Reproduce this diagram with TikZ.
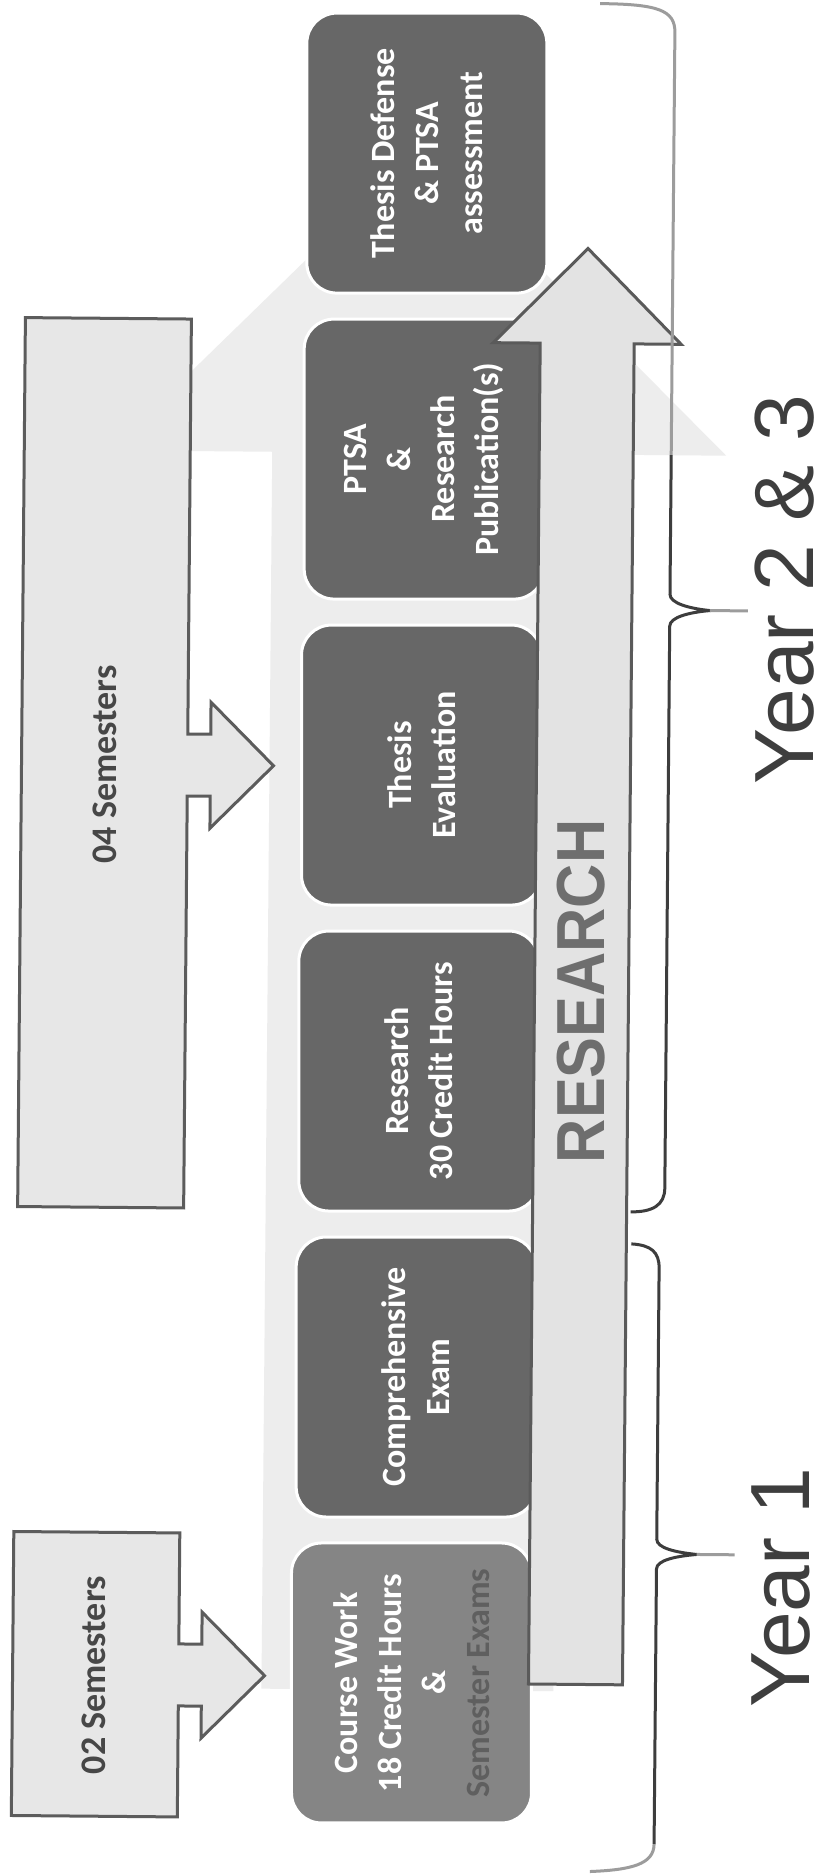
\documentclass[tikz,border=0pt]{standalone}
\usepackage{fontspec}
\setmainfont{Carlito}
\newfontfamily\arialf{Liberation Sans}
\definecolor{bglight}{HTML}{EDEDED}
\definecolor{semfill}{HTML}{E7E7E7}
\definecolor{semline}{HTML}{5C5C5C}
\definecolor{semtextc}{HTML}{474747}
\definecolor{boxgray}{HTML}{676767}
\definecolor{boxlight}{HTML}{858585}
\definecolor{resfill}{HTML}{E3E3E3}
\definecolor{resline}{HTML}{5A5A5A}
\definecolor{restext}{HTML}{6E6E6E}
\definecolor{bracedarkc}{HTML}{3D3D3D}
\definecolor{bracelightc}{HTML}{9C9C9C}
\definecolor{yeartext}{HTML}{3E3E3E}
\definecolor{examgray}{HTML}{5F5F5F}
\tikzset{
  stepbox/.style={draw=white, line width=3pt, fill=boxgray, rounded corners=30pt,
    minimum width=280pt, minimum height=240pt, rotate=90, align=center,
    text=white, inner sep=0pt, font=\bfseries\fontsize{34}{44}\selectfont},
  semtext/.style={rotate=90, text=semtextc, inner sep=0pt,
    font=\bfseries\fontsize{36}{40}\selectfont},
  yearlabel/.style={rotate=90, anchor=base, text=yeartext, inner sep=0pt,
    font=\arialf\fontsize{84}{84}\selectfont},
  bracedark/.style={draw=bracedarkc, line width=3pt},
  bracelight/.style={draw=bracelightc, line width=3pt},
}
\begin{document}
\begin{tikzpicture}[x=1pt,y=-1pt]
\useasboundingbox (0,0) rectangle (832,1875);
\fill[white] (0,0) rectangle (832,1875);
\begin{scope}[rotate around={-0.5:(416,937)}]
% large light background arrow
\fill[bglight] (268,1690) -- (268,453) -- (106,453) -- (414,148) -- (722,453)
  -- (560,453) -- (560,1690) -- cycle;
% semester callouts
\filldraw[fill=semfill, draw=semline, line width=3pt, line join=miter]
  (20,321) -- (186,321) -- (186,736) -- (209,736) -- (209,704) -- (272,767)
  -- (209,830) -- (209,798) -- (186,798) -- (186,1210) -- (20,1210) -- cycle;
\filldraw[fill=semfill, draw=semline, line width=3pt, line join=miter]
  (19,1535) -- (185,1535) -- (185,1646) -- (208,1646) -- (208,1614) -- (271,1677)
  -- (208,1740) -- (208,1708) -- (185,1708) -- (185,1819) -- (19,1819) -- cycle;
\node[semtext] (sem04) at (103,767) {04 Semesters};
\node[semtext] (sem02) at (100,1678) {02 Semesters};
% process boxes
\node[stepbox] (b6) at (420,153) {Thesis Defense\\\& PTSA\\assessment};
\node[stepbox] (b5) at (420,459) {PTSA\\\&\\Research\\Publication(s)};
\node[stepbox] (b4) at (420,765) {Thesis\\Evaluation};
\node[stepbox] (b3) at (420,1071) {Research\\30 Credit Hours};
\node[stepbox] (b2) at (420,1377) {Comprehensive\\Exam};
\node[stepbox, fill=boxlight] (b1) at (418,1683)
  {Course Work\\18 Credit Hours\\\&\\\textcolor{examgray}{Semester Exams}};
% research arrow
\filldraw[fill=resfill, draw=resline, line width=3pt, line join=miter]
  (535,1683) -- (535,342) -- (488,342) -- (582,247) -- (676,342) -- (629,342)
  -- (629,1683) -- cycle;
\node[rotate=90, text=restext, inner sep=0pt,
  font=\arialf\bfseries\fontsize{68}{68}\selectfont] (research) at (582,990)
  {\scalebox{0.9}[1]{RESEARCH}};
% braces
\draw[bracelight] (592,2) .. controls (650,2) and (667,8) .. (667,30) -- (667,453);
\draw[bracedark, line cap=butt] (667,453) -- (667,592) .. controls (667,601) and (686,606) .. (707,608)
  .. controls (686,610) and (667,615) .. (667,624) -- (667,1186)
  .. controls (667,1203) and (655,1210) .. (633,1210);
\draw[bracelight] (707,608) -- (745,608);
\draw[bracedark] (634,1242) .. controls (654,1243) and (662,1250) .. (662,1266)
  -- (662,1537) .. controls (662,1546) and (681,1550) .. (702,1552)
  .. controls (681,1554) and (662,1558) .. (662,1567) -- (662,1842);
\draw[bracelight] (662,1842) .. controls (662,1862) and (640,1868) .. (598,1870);
\draw[bracelight] (702,1552) -- (740,1552);
% year labels
\node[yearlabel] (y23) at (810,586) {Year 2 \& 3};
\node[yearlabel] (y1) at (815,1584) {Year 1};
\end{scope}
\end{tikzpicture}
\end{document}
